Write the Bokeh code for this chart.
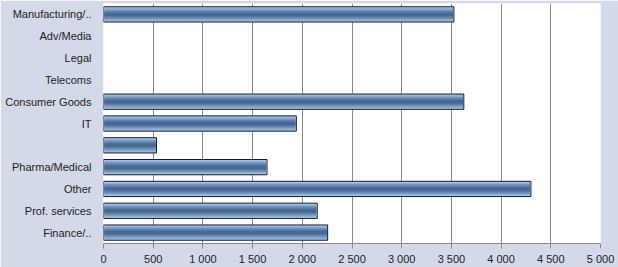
from bokeh.plotting import figure
from bokeh.models import FactorRange, FixedTicker
from bokeh.embed import file_html
from bokeh.resources import INLINE

categories = ["Manufacturing/..", "Adv/Media", "Legal", "Telecoms", "Consumer Goods",
              "IT", " ", "Pharma/Medical", "Other", "Prof. services", "Finance/.."]
values = [3525, 0, 0, 0, 3625, 1940, 533, 1645, 4300, 2150, 2255]
tick_values = [0, 500, 1000, 1500, 2000, 2500, 3000, 3500, 4000, 4500, 5000]
tick_labels = ["0", "500", "1 000", "1 500", "2 000", "2 500", "3 000", "3 500", "4 000", "4 500", "5 000"]

cats = [c for c in categories]
vals = [v for v in values]

p = figure(width=618, height=267, output_backend="svg", toolbar_location=None,
           y_range=FactorRange(*list(reversed(cats)), range_padding=0),
           x_range=(0, 5000),
           min_border_left=103, min_border_right=18, min_border_top=3, min_border_bottom=22)
p.background_fill_color = "white"
p.border_fill_color = "#d4d9e8"
p.outline_line_color = None

# cylinder-like shading: stacked bars of decreasing height
layers = [(0.70, "#a9c7e8"), (0.58, "#8eb0d6"), (0.46, "#7397c0"), (0.32, "#5a7fa9"), (0.16, "#46698f")]
for i, (h, col) in enumerate(layers):
    if i == 0:
        p.hbar(y=[c for c, v in zip(cats, vals) if v > 0], right=[v for v in vals if v > 0], left=0,
               height=h, fill_color=col, line_color="#1a1a2a", line_width=1)
    else:
        p.hbar(y=[c for c, v in zip(cats, vals) if v > 0], right=[v - 8 for v in vals if v > 0], left=8,
               height=h, fill_color=col, line_color=None)

p.xaxis.ticker = FixedTicker(ticks=tick_values)
p.xaxis.major_label_overrides = {t: l for t, l in zip(tick_values, tick_labels)}
p.xaxis.axis_line_color = "#888888"
p.xaxis.major_tick_line_color = "#888888"
p.xaxis.major_tick_out = 5
p.xaxis.major_tick_in = 0
p.xaxis.minor_tick_line_color = None
p.xaxis.major_label_text_font = "Liberation Sans"
p.xaxis.major_label_text_font_size = "11px"
p.xaxis.major_label_text_color = "#222222"
p.xaxis.major_label_standoff = 4

p.yaxis.axis_line_color = None
p.yaxis.major_tick_line_color = None
p.yaxis.minor_tick_line_color = None
p.yaxis.major_label_text_font = "Liberation Sans"
p.yaxis.major_label_text_font_size = "11px"
p.yaxis.major_label_text_color = "#222222"
p.yaxis.major_label_standoff = 6

p.xgrid.grid_line_color = "#8a8a8a"
p.xgrid.ticker = FixedTicker(ticks=tick_values)
p.ygrid.grid_line_color = None

open("out.html", "w").write(file_html(p, INLINE))
